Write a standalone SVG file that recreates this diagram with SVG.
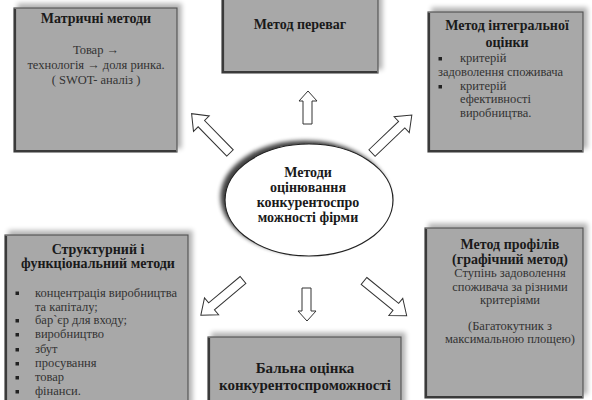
<svg xmlns="http://www.w3.org/2000/svg" width="592" height="400" viewBox="0 0 592 400">
<defs>
<filter id="sh" x="-15%" y="-15%" width="130%" height="130%">
<feGaussianBlur in="SourceAlpha" stdDeviation="2.5"/>
<feOffset dx="4" dy="-4" result="o"/>
<feComponentTransfer><feFuncA type="linear" slope="0.3"/></feComponentTransfer>
<feMerge><feMergeNode/><feMergeNode in="SourceGraphic"/></feMerge>
</filter>
<filter id="esh" x="-20%" y="-20%" width="140%" height="140%">
<feGaussianBlur in="SourceAlpha" stdDeviation="2"/>
<feOffset dx="-4" dy="-3"/>
<feComponentTransfer><feFuncA type="linear" slope="0.75"/></feComponentTransfer>
<feMerge><feMergeNode/><feMergeNode in="SourceGraphic"/></feMerge>
</filter>
<polygon id="darr" points="0,-4.5 41,-4.5 41,-11 55,0 41,11 41,4.5 0,4.5"/>
</defs>
<style>
.box{fill:#a8a8a8;stroke:#555;stroke-width:1.2;filter:url(#sh)}
.edge{fill:none;stroke:#3a3a3a;stroke-width:2.2}
text{font-family:'Liberation Serif','Times New Roman','DejaVu Serif',serif}
.t{font-weight:bold;font-size:14px;fill:#1a1a1a;text-anchor:middle}
.b{font-size:12.5px;fill:#333}
.c{text-anchor:middle}
.bul{fill:#222}
.arr{fill:#fff;stroke:#333;stroke-width:1}
</style>
<rect width="592" height="400" fill="#fff"/>

<g id="connectors">
<polygon class="arr" points="303,124 303,101 299,101 308,91 317,101 312,101 312,124"/>
<polygon class="arr" points="302,288 302,311 298,311 307,321 316,311 311,311 311,288"/>
<use href="#darr" class="arr" transform="translate(230,153) rotate(-134.3)"/>
<use href="#darr" class="arr" transform="translate(372,153) rotate(-43.6)"/>
<use href="#darr" class="arr" transform="translate(243,280) rotate(140.1)"/>
<use href="#darr" class="arr" transform="translate(364,281) rotate(39.1)"/>
</g>

<g id="center">
<ellipse cx="309" cy="200" rx="84" ry="56" fill="#fff" stroke="#222" stroke-width="1.2" filter="url(#esh)"/>
<text class="t" x="308" y="177">Методи</text>
<text class="t" x="308" y="192">оцінювання</text>
<text class="t" x="308" y="207">конкурентоспро</text>
<text class="t" x="308" y="222">можності фірми</text>
</g>

<g id="matrix">
<rect class="box" x="14" y="8" width="163" height="144"/>
<path class="edge" d="M15,9 V151 H176"/>
<text class="t" x="96" y="23">Матричні методи</text>
<text class="b c" x="96" y="54">Товар →</text>
<text class="b c" x="96" y="69">технологія  →  доля ринка.</text>
<text class="b c" x="96" y="84">( SWOT-  аналіз )</text>
</g>

<g id="advantages">
<rect class="box" x="222" y="-6" width="156" height="79"/>
<path class="edge" d="M223,-6 V72 H377"/>
<text class="t" x="300" y="29">Метод переваг</text>
</g>

<g id="integral">
<rect class="box" x="428" y="12" width="155" height="140"/>
<path class="edge" d="M429,13 V151 H582"/>
<text class="t" x="507" y="30">Метод інтегральної</text>
<text class="t" x="507" y="47">оцінки</text>
<rect class="bul" x="438.5" y="57" width="3.5" height="3.5"/>
<text class="b" x="460" y="62">критерій</text>
<text class="b" x="438" y="76">задоволення споживача</text>
<rect class="bul" x="438.5" y="85" width="3.5" height="3.5"/>
<text class="b" x="460" y="90">критерій</text>
<text class="b" x="460" y="103">ефективності</text>
<text class="b" x="460" y="117">виробництва.</text>
</g>

<g id="structural">
<rect class="box" x="5" y="235" width="183" height="175"/>
<path class="edge" d="M6,236 V410"/>
<text class="t" x="98" y="254">Структурний і</text>
<text class="t" x="98" y="268">функціональний методи</text>
<rect class="bul" x="15.5" y="291.5" width="3.5" height="3.5"/>
<text class="b" x="35" y="297">концентрація виробництва</text>
<text class="b" x="35" y="311">та капіталу;</text>
<rect class="bul" x="15.5" y="319" width="3.5" height="3.5"/>
<text class="b" x="35" y="324">бар`єр для входу;</text>
<rect class="bul" x="15.5" y="333" width="3.5" height="3.5"/>
<text class="b" x="35" y="338">виробництво</text>
<rect class="bul" x="15.5" y="348" width="3.5" height="3.5"/>
<text class="b" x="35" y="353">збут</text>
<rect class="bul" x="15.5" y="362" width="3.5" height="3.5"/>
<text class="b" x="35" y="367">просування</text>
<rect class="bul" x="15.5" y="376" width="3.5" height="3.5"/>
<text class="b" x="35" y="381">товар</text>
<rect class="bul" x="15.5" y="390" width="3.5" height="3.5"/>
<text class="b" x="35" y="395">фінанси.</text>
</g>

<g id="points">
<rect class="box" x="208" y="337" width="193" height="72"/>
<path class="edge" d="M209,338 V409"/>
<text class="t" x="305" y="373" style="font-size:15px">Бальна оцінка</text>
<text class="t" x="305" y="390" style="font-size:15px">конкурентоспроможності</text>
</g>

<g id="profiles">
<rect class="box" x="425" y="228" width="158" height="170"/>
<path class="edge" d="M426,229 V397 H582"/>
<text class="t" x="510" y="249">Метод профілів</text>
<text class="t" x="510" y="264">(графічний метод)</text>
<text class="b c" x="510" y="277">Ступінь задоволення</text>
<text class="b c" x="510" y="291">споживача за різними</text>
<text class="b c" x="510" y="304">критеріями</text>
<text class="b c" x="510" y="330">(Багатокутник з</text>
<text class="b c" x="510" y="343">максимальною площею)</text>
</g>
</svg>
